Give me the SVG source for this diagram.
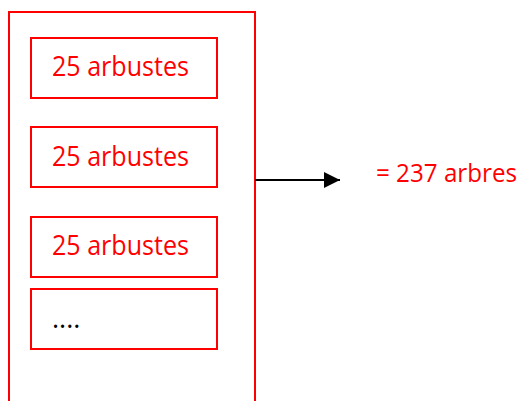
<svg xmlns="http://www.w3.org/2000/svg" width="524" height="401" viewBox="0 0 524 401">
<style>
.box{fill:none;stroke:#ff0000;stroke-width:2}
.lbl{font-family:"Open Sans","Liberation Sans",sans-serif;font-size:27px;fill:#ff0000}
.dots{font-family:"Open Sans","Liberation Sans",sans-serif;font-size:27px;fill:#000}
</style>
<defs>
<marker id="ah" viewBox="0 0 10 10" refX="10" refY="5" markerWidth="16" markerHeight="16" markerUnits="userSpaceOnUse" orient="auto">
<path d="M0,0 L10,5 L0,10 z" fill="#000"/>
</marker>
</defs>
<g id="container"><path class="box" d="M9,402 V12 H255 V402"/></g>
<g id="n1"><rect class="box" x="31" y="38" width="186" height="60"/><text class="lbl" x="52" y="76" textLength="137" lengthAdjust="spacingAndGlyphs">25 arbustes</text></g>
<g id="n2"><rect class="box" x="31" y="127" width="186" height="60"/><text class="lbl" x="52" y="166" textLength="137" lengthAdjust="spacingAndGlyphs">25 arbustes</text></g>
<g id="n3"><rect class="box" x="31" y="217" width="186" height="60"/><text class="lbl" x="52" y="255" textLength="137" lengthAdjust="spacingAndGlyphs">25 arbustes</text></g>
<g id="n4"><rect class="box" x="31" y="289" width="186" height="60"/><text class="dots" x="52" y="328">....</text></g>
<g id="connectors"><line x1="255" y1="180" x2="340" y2="180" stroke="#000" stroke-width="2" marker-end="url(#ah)"/></g>
<g id="result"><text class="lbl" x="376" y="182" style="font-size:25px" textLength="141" lengthAdjust="spacingAndGlyphs">= 237 arbres</text></g>
</svg>
